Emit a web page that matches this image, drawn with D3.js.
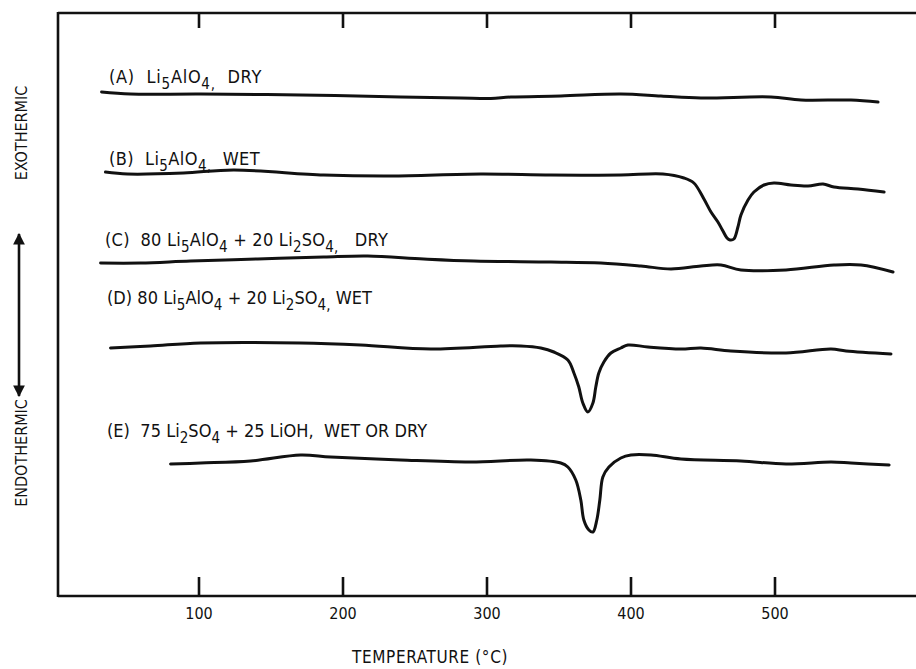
<!DOCTYPE html>
<html>
<head>
<meta charset="utf-8">
<script src="https://cdn.jsdelivr.net/npm/d3@7/dist/d3.min.js"></script>
<style>
  html, body { margin: 0; padding: 0; background: #fff; }
  svg { display: block; }
  text { font-family: "Liberation Sans Narrow", "DejaVu Sans Condensed", "Liberation Sans", sans-serif; fill: #111; white-space: pre; }
</style>
</head>
<body>
<svg id="chart" width="916" height="669"></svg>
<script>
// ---- data (temperature in °C, DTA signal in arbitrary offset units) ----
const tickTemps = [100, 200, 300, 400, 500];
const tickLabels = ["100", "200", "300", "400", "500"];

const seriesA = [[32.7,504],[52.8,502],[101.5,502],[170.9,501],[240.4,499],[282.1,498],[303.0,497.5],[316.9,499],[351.6,500],[393.3,502],[421.1,500],[448.9,498],[497.5,499],[518.4,496],[553.1,496],[571.9,494]];

const seriesB = [[35.4,424],[50.7,422],[89.6,423],[124.4,426],[186.9,421],[233.5,420],[296.0,422],[344.7,421],[393.3,421],[422.5,422],[437.1,418],[444.0,413],[451.0,397],[455.9,384],[460.7,374],[464.2,365],[467.0,358],[469.1,356],[471.8,357],[474.6,369],[476.7,381],[481.6,396],[485.7,404],[492.7,411],[499.6,413],[511.4,411],[523.3,410],[533.7,412],[541.3,409],[558.0,407],[576.1,404]];

const seriesC = [[32.0,333],[59.8,333],[94.5,335],[141.1,337],[186.9,339],[217.5,340],[256.4,337],[291.2,335],[344.7,334],[379.4,333],[407.2,330],[428.1,327],[448.9,330],[462.8,331],[476.7,326],[508.0,326],[541.3,331],[560.1,331],[582.3,324]];

const seriesD = [[38.9,248],[66.7,250],[101.5,253],[170.9,253],[212.6,251],[261.3,247],[309.9,250],[323.8,250],[337.7,248],[346.8,244],[356.5,236],[360.7,223],[364.1,209],[366.9,193],[370.4,184],[373.9,193],[375.9,209],[378.0,223],[381.5,234],[386.4,243],[393.3,248],[398.2,251],[412.1,249],[435.0,247],[448.9,248],[469.7,245],[508.0,243],[539.3,247],[549.7,245],[580.9,242]];

const seriesE = [[80.6,132],[101.5,133],[136.2,135],[170.9,141],[191.8,139],[240.4,136],[289.1,134],[330.8,136],[351.6,133],[356.5,129],[362.0,116],[365.5,96],[367.6,76],[371.1,66],[373.9,64],[376.6,76],[378.7,96],[380.8,119],[385.0,129],[393.3,138],[400.3,141],[414.2,141],[435.0,137],[476.7,135],[508.0,132],[539.3,134],[553.1,133],[579.6,131]];

const seriesList = [seriesA, seriesB, seriesC, seriesD, seriesE];

// label text segments: [text, isSubscript]
const labelA = [["(A)  Li",0],["5",1],["AlO",0],["4",1],[",",1],["  DRY",0]];
const labelB = [["(B)  Li",0],["5",1],["AlO",0],["4",1],[",",1],["  WET",0]];
const labelC = [["(C)  80 Li",0],["5",1],["AlO",0],["4",1],[" + 20 Li",0],["2",1],["SO",0],["4",1],[",",1],["   DRY",0]];
const labelD = [["(D) 80 Li",0],["5",1],["AlO",0],["4",1],[" + 20 Li",0],["2",1],["SO",0],["4",1],[",",1],[" WET",0]];
const labelE = [["(E)  75 Li",0],["2",1],["SO",0],["4",1],[" + 25 LiOH,  WET OR DRY",0]];
const labelList = [labelA, labelB, labelC, labelD, labelE];

const xTitle = "TEMPERATURE (°C)";
const yTop = "EXOTHERMIC";
const yBottom = "ENDOTHERMIC";

// ---- layout ----
const frame = { left: 58, top: 13, bottom: 596, right: 916 };
const labelPos = [[109, 83], [109, 165], [105, 246], [107, 304], [107, 437]];
const labelWidth = [153, 151, 283, 265, 320];

const svg = d3.select("#chart");

const x = d3.scaleLinear().domain([0, 600]).range([54.5, 918.5]);
const y = d3.scaleLinear().domain([0, 583]).range([frame.bottom, frame.top]);

// frame
const g = svg.append("g");
g.append("line").attr("x1", frame.left).attr("x2", frame.left).attr("y1", frame.top - 1).attr("y2", frame.bottom + 1)
  .attr("stroke", "#111").attr("stroke-width", 2.6);
g.append("line").attr("x1", frame.left).attr("x2", frame.right).attr("y1", frame.top).attr("y2", frame.top)
  .attr("stroke", "#111").attr("stroke-width", 2.6);
g.append("line").attr("x1", frame.left).attr("x2", frame.right).attr("y1", frame.bottom).attr("y2", frame.bottom)
  .attr("stroke", "#111").attr("stroke-width", 2.6);

// bottom axis
const axB = d3.axisBottom(x).tickValues(tickTemps).tickSize(-19).tickPadding(12)
  .tickFormat((d, i) => tickLabels[i]);
const gB = svg.append("g").attr("transform", `translate(0,${frame.bottom})`).call(axB);
gB.select(".domain").remove();
gB.selectAll(".tick line").attr("stroke", "#111").attr("stroke-width", 2.6);
gB.selectAll(".tick text").attr("font-size", 16).attr("fill", "#111")
  .style("font-family", '"Liberation Sans Narrow", "DejaVu Sans Condensed", sans-serif');

// top axis
const axT = d3.axisTop(x).tickValues(tickTemps).tickSize(-15).tickFormat("");
const gT = svg.append("g").attr("transform", `translate(0,${frame.top})`).call(axT);
gT.select(".domain").remove();
gT.selectAll(".tick line").attr("stroke", "#111").attr("stroke-width", 2.6);

// curves
const line = d3.line().x(d => x(d[0])).y(d => y(d[1])).curve(d3.curveCatmullRom.alpha(0.5));
svg.append("g").selectAll("path").data(seriesList).join("path")
  .attr("d", line).attr("fill", "none").attr("stroke", "#111")
  .attr("stroke-width", 3).attr("stroke-linejoin", "round").attr("stroke-linecap", "round");

// fit text width by letter spacing
function fitWidth(t, target) {
  const node = t.node();
  const w = node.getComputedTextLength();
  const n = node.textContent.length;
  if (n > 1) t.attr("letter-spacing", ((target - w) / n).toFixed(2));
}

// labels
labelList.forEach((segs, i) => {
  const t = svg.append("text").attr("x", labelPos[i][0]).attr("y", labelPos[i][1]).attr("font-size", 18);
  let prevSub = 0;
  segs.forEach(([s, sub]) => {
    const ts = t.append("tspan").text(s);
    if (sub) ts.attr("font-size", 15);
    const dy = (sub ? 6 : 0) - (prevSub ? 6 : 0);
    if (dy) ts.attr("dy", dy);
    prevSub = sub;
  });
  fitWidth(t, labelWidth[i]);
});

// axis title
const tt = svg.append("text").attr("x", 352).attr("y", 663)
  .attr("font-size", 17).text(xTitle);
fitWidth(tt, 156);

// vertical labels
svg.append("text").attr("transform", "translate(27,133) rotate(-90)").attr("text-anchor", "middle")
  .attr("font-size", 16).text(yTop);
svg.append("text").attr("transform", "translate(27,453) rotate(-90)").attr("text-anchor", "middle")
  .attr("font-size", 16).text(yBottom);

// double-headed arrow
const defs = svg.append("defs");
defs.append("marker").attr("id", "ah").attr("viewBox", "0 0 10 10").attr("refX", 9).attr("refY", 5)
  .attr("markerWidth", 4.5).attr("markerHeight", 4.5).attr("orient", "auto-start-reverse")
  .append("path").attr("d", "M0,0 L10,5 L0,10 z").attr("fill", "#111");
svg.append("line").attr("x1", 19).attr("x2", 19).attr("y1", 234).attr("y2", 396)
  .attr("stroke", "#111").attr("stroke-width", 2.6)
  .attr("marker-start", "url(#ah)").attr("marker-end", "url(#ah)");
</script>
</body>
</html>
